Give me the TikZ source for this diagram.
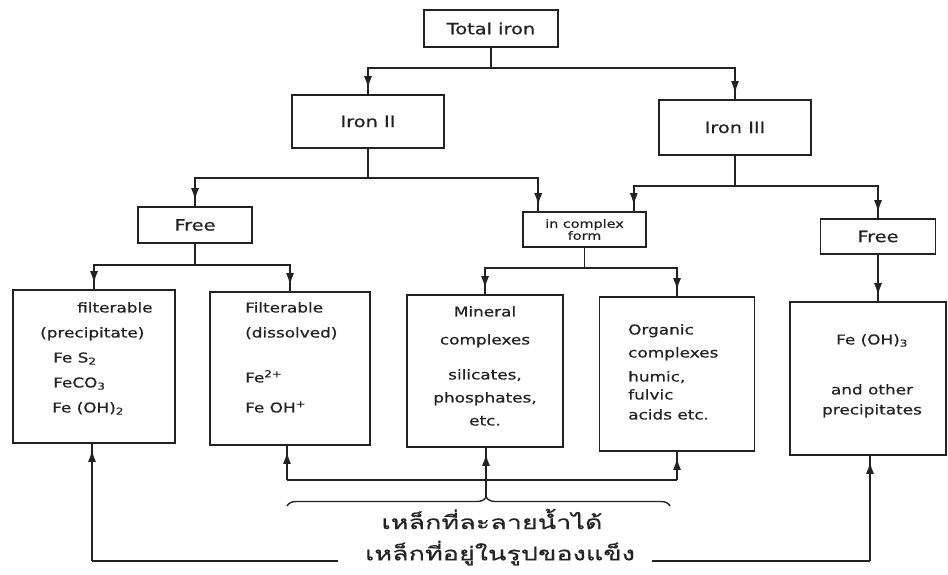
\documentclass[tikz,border=0pt]{standalone}
\usepackage{fontspec}
\setmainfont{DejaVu Sans}[FakeStretch=1.25,FakeBold=0.6]
\newfontfamily\thaifont[Script=Thai,FakeStretch=1.42,FakeBold=0.5]{Loma}
\usetikzlibrary{arrows.meta,decorations.pathreplacing}
\definecolor{ink}{HTML}{222222}
\tikzset{
  box/.style={draw=ink, line width=1.6pt, rectangle, inner sep=0pt, text=ink,
    font=\fontsize{15.5}{17}\selectfont},
  txt/.style={inner sep=0pt, text=ink, font=\fontsize{13.5}{25}\selectfont},
  link/.style={draw=ink, line width=1.6pt},
  tipend/.style={postaction={draw=ink, line width=1.6pt,
    -{Latex[length=12pt,width=8pt]}, shorten >=6pt}},
  thai/.style={inner sep=0pt, text=ink, font=\thaifont\fontsize{19}{22}\selectfont},
}
\begin{document}
\begin{tikzpicture}[x=1pt,y=-1pt]
  \useasboundingbox (0,0) rectangle (948,574);

  % tree boxes
  \node[box, minimum width=134pt, minimum height=37pt] (total) at (491,28.5) {Total iron};
  \node[box, minimum width=152pt, minimum height=53pt] (iron2) at (368,121.5) {Iron II};
  \node[box, minimum width=152pt, minimum height=55pt] (iron3) at (735,127.5) {Iron III};
  \node[box, minimum width=114pt, minimum height=36pt] (free1) at (195,225) {Free};
  \node[box, minimum width=123pt, minimum height=35pt, align=center,
        font=\fontsize{11.5}{12}\selectfont] (cplx) at (584.5,229.5) {in complex\\form};
  \node[box, minimum width=115pt, minimum height=35pt] (free2) at (878,236.5) {Free};

  % bottom boxes
  \node[box, minimum width=162pt, minimum height=153pt] (box1) at (94,366.5) {};
  \node[box, minimum width=160pt, minimum height=153pt] (box2) at (290,368.5) {};
  \node[box, minimum width=156pt, minimum height=152pt] (box3) at (485,371) {};
  \node[box, minimum width=155pt, minimum height=154pt] (box4) at (677,374) {};
  \node[box, minimum width=156pt, minimum height=153pt] (box5) at (868,378.5) {};

  % box texts
  \node[txt, align=left, anchor=north west] (t1) at (40,302)
    {\hspace*{37pt}filterable\\(precipitate)\\\hspace*{13pt}Fe S\textsubscript{2}\\
     \hspace*{13pt}FeCO\textsubscript{3}\\\hspace*{12pt}Fe (OH)\textsubscript{2}};
  \node[txt, align=left, anchor=north west] (t2) at (245,302)
    {Filterable\\(dissolved)\\[20pt]Fe\textsuperscript{2+}\\[5pt]Fe OH\textsuperscript{+}};
  \node[txt, align=center, anchor=north, font=\fontsize{13.5}{23}\selectfont] (t3) at (485,306)
    {Mineral\\[5pt]complexes\\[12pt]silicates,\\phosphates,\\etc.};
  \node[txt, align=left, anchor=north west, font=\fontsize{13.5}{21}\selectfont] (t4) at (628,324)
    {Organic\\[2pt]complexes\\[3pt]humic,\\[-3pt]fulvic\\[-1pt]acids etc.};
  \node[txt, align=center, anchor=north, font=\fontsize{13.5}{20}\selectfont] (t5) at (872,334)
    {Fe (OH)\textsubscript{3}\\[30pt]and other\\precipitates};

  % thai labels
  \node[thai] (dissolved) at (492,519) {เหล็กที่ละลายน้ำได้};
  \node[thai] (solid) at (500,553) {เหล็กที่อยู่ในรูปของแข็ง};

  % tree connectors
  \coordinate (s0) at (491,68);
  \draw[link] (total.south) -- (s0);
  \draw[link,tipend] (s0) -| (iron2.north);
  \draw[link,tipend] (s0) -| (iron3.north);

  \coordinate (s1) at (368,178);
  \draw[link] (iron2.south) -- (s1);
  \draw[link,tipend] (s1) -| (free1.north);
  \draw[link,tipend] (s1) -| ([xshift=16pt]cplx.north west);

  \coordinate (s2) at (735,186);
  \draw[link] (iron3.south) -- (s2);
  \draw[link,tipend] (s2) -| ([xshift=-13pt]cplx.north east);
  \draw[link,tipend] (s2) -| (free2.north);

  \coordinate (s3) at (195,265);
  \draw[link] (free1.south) -- (s3);
  \draw[link,tipend] (s3) -| (box1.north);
  \draw[link,tipend] (s3) -| (box2.north);

  \coordinate (s4) at (584.5,268);
  \draw[link] (cplx.south) -- (s4);
  \draw[link,tipend] (s4) -| (box3.north);
  \draw[link,tipend] (s4) -| (box4.north);

  \draw[link,tipend] (free2.south) -- (free2.south |- box5.north);

  % dissolved forms
  \coordinate (q1) at (287,480);
  \coordinate (q2) at (677,480);
  \draw[link,tipend] (q1) -- (q1 |- box2.south);
  \draw[link] (q1) -- (q2);
  \draw[link,tipend] (q2) -- (box4.south);
  \draw[draw=ink, line width=1.4pt, decorate,
        decoration={brace, amplitude=9pt, aspect=0.52}] (287,506) -- (670,506);
  \coordinate (tip) at (486,497);
  \draw[link,tipend] (tip) -- (tip |- box3.south);

  % solid forms
  \coordinate (o1) at (92,561);
  \coordinate (o2) at (338,561);
  \coordinate (o3) at (652,561);
  \coordinate (o4) at (870,561);
  \draw[link] (o2) -- (o1);
  \draw[link,tipend] (o1) -- (o1 |- box1.south);
  \draw[link] (o3) -- (o4);
  \draw[link,tipend] (o4) -- (o4 |- box5.south);
\end{tikzpicture}
\end{document}
